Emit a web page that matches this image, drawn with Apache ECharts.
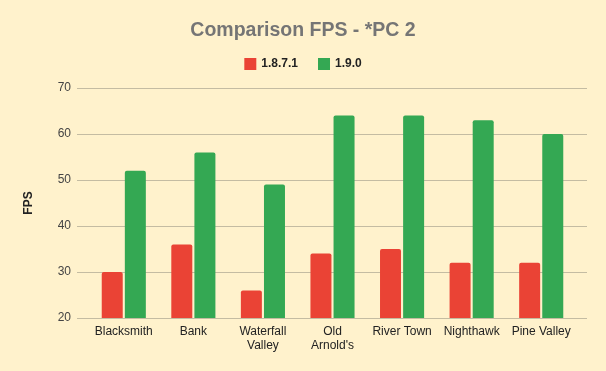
<!DOCTYPE html>
<html>
<head>
<meta charset="utf-8">
<script src="https://cdn.jsdelivr.net/npm/echarts@6/dist/echarts.min.js"></script>
<style>html,body{margin:0;padding:0;background:#FFF2CC;}#c{width:606px;height:371px;}</style>
</head>
<body>
<div id="c"></div>
<script>
const categories = ["Blacksmith", "Bank", "Waterfall\nValley", "Old\nArnold's", "River Town", "Nighthawk", "Pine Valley"];
const seriesNames = ["1.8.7.1", "1.9.0"];
const values1871 = [30, 36, 26, 34, 35, 32, 32];
const values190 = [52, 56, 49, 64, 64, 63, 60];
const yTicks = { min: 20, max: 70, interval: 10 };

const chart = echarts.init(document.getElementById('c'), null, { renderer: 'canvas' });
const font = 'Arial, "Liberation Sans", sans-serif';
chart.setOption({
  backgroundColor: '#FFF2CC',
  animation: false,
  title: {
    text: 'Comparison FPS - *PC 2',
    left: 'center', top: 16,
    textStyle: { fontFamily: font, fontSize: 19.5, fontWeight: 'bold', color: '#757575' }
  },
  legend: {
    top: 53, left: 'center',
    itemWidth: 12, itemHeight: 12, itemGap: 20,
    icon: 'rect',
    textStyle: { fontFamily: font, fontSize: 12, fontWeight: 'bold', color: '#222' },
    data: seriesNames
  },
  grid: [
    { left: 89, right: 30, top: 88, bottom: 53 },
    { left: 77, right: 19, top: 88, bottom: 53 }
  ],
  xAxis: [
    {
      type: 'category', gridIndex: 0, data: categories,
      axisLine: { show: false }, axisTick: { show: false },
      axisLabel: { fontFamily: font, fontSize: 12, color: '#222', margin: 7, lineHeight: 14, interval: 0 }
    },
    { type: 'value', gridIndex: 1, show: false, min: 0, max: 1 }
  ],
  yAxis: [
    { type: 'value', gridIndex: 0, min: yTicks.min, max: yTicks.max, interval: yTicks.interval,
      axisLabel: { show: false }, splitLine: { show: false }, axisLine: { show: false }, axisTick: { show: false } },
    { type: 'value', gridIndex: 1, min: yTicks.min, max: yTicks.max, interval: yTicks.interval,
      name: 'FPS', nameLocation: 'middle', nameGap: 42, nameRotate: 90,
      nameTextStyle: { fontFamily: font, fontSize: 12, fontWeight: 'bold', color: '#222' },
      axisLabel: { fontFamily: font, fontSize: 12, color: '#444', margin: 6 },
      splitLine: { lineStyle: { color: '#C4BCA2', width: 1 } },
      axisLine: { show: false }, axisTick: { show: false } }
  ],
  series: [
    { name: seriesNames[0], type: 'bar', xAxisIndex: 0, yAxisIndex: 0, data: values1871,
      barWidth: 21, barGap: '10%', itemStyle: { color: '#EA4335', borderRadius: [2, 2, 0, 0] } },
    { name: seriesNames[1], type: 'bar', xAxisIndex: 0, yAxisIndex: 0, data: values190,
      barWidth: 21, barGap: '10%', itemStyle: { color: '#34A853', borderRadius: [2, 2, 0, 0] } }
  ]
});
</script>
</body>
</html>
